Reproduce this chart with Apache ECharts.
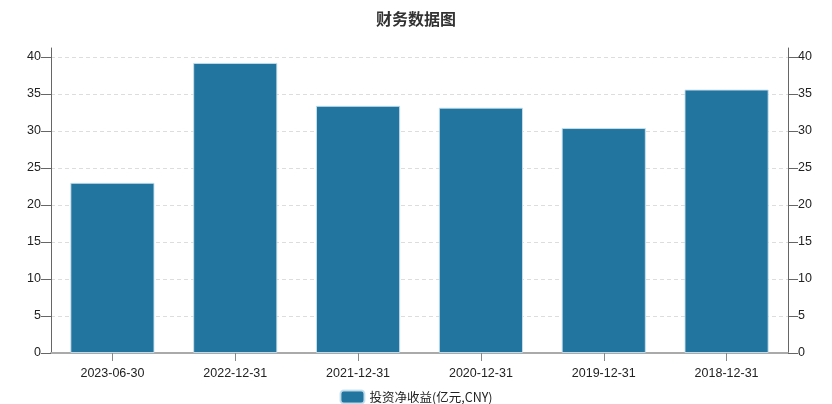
<!DOCTYPE html>
<html>
<head>
<meta charset="utf-8">
<script src="https://cdn.jsdelivr.net/npm/echarts@6/dist/echarts.min.js"></script>
<style>
html,body{margin:0;padding:0;background:#fff;}
#main{width:832px;height:404px;}
</style>
</head>
<body>
<div id="main"></div>
<script>
const categories = ['2023-06-30', '2022-12-31', '2021-12-31', '2020-12-31', '2019-12-31', '2018-12-31'];
const investIncome = [23.0, 39.2, 33.4, 33.15, 30.4, 35.6];
const yTicks = [0, 5, 10, 15, 20, 25, 30, 35, 40];
const seriesName = '投资净收益(亿元,CNY)';
const chartTitle = '财务数据图';

const fontFamily = '"Liberation Sans", Arial, "Noto Sans CJK SC", sans-serif';
const yMax = yTicks[yTicks.length - 1];
const yStep = yTicks[1] - yTicks[0];

function yAxisDef(pos) {
  return {
    type: 'value',
    gridIndex: 0,
    position: pos,
    min: yTicks[0],
    max: yMax,
    interval: yStep,
    axisLine: { show: false },
    axisTick: { show: true, length: 10, lineStyle: { color: '#666' } },
    axisLabel: {
      margin: 10,
      color: '#222',
      fontSize: 12.5,
      fontFamily: fontFamily
    },
    splitLine: pos === 'left' ? {
      show: true,
      lineStyle: { color: '#ddd', type: [4, 3], width: 1 }
    } : { show: false }
  };
}

// axis-line-only axes on a slightly taller grid (lines extend above the top tick)
function yLineAxis(pos) {
  return {
    type: 'value',
    gridIndex: 1,
    position: pos,
    min: 0,
    max: 1,
    axisLine: { show: true, onZero: false, lineStyle: { color: '#666', width: 1 } },
    axisTick: { show: false },
    axisLabel: { show: false },
    splitLine: { show: false }
  };
}

const chart = echarts.init(document.getElementById('main'), null, { renderer: 'canvas' });
chart.setOption({
  backgroundColor: '#fff',
  animation: false,
  title: {
    text: chartTitle,
    left: 'center',
    top: 6,
    textStyle: { fontSize: 16, fontWeight: 'bold', color: '#333', fontFamily: '"Noto Sans CJK SC", sans-serif' }
  },
  legend: {
    bottom: -5.5,
    left: 'center',
    itemWidth: 24,
    itemHeight: 13,
    icon: 'roundRect',
    textStyle: { fontSize: 12.5, color: '#222', fontFamily: '"Noto Sans CJK SC", sans-serif' },
    data: [seriesName]
  },
  grid: [
    { left: 51, right: 44, top: 57, bottom: 51, containLabel: false },
    { left: 51, right: 44, top: 48, bottom: 51, containLabel: false }
  ],
  xAxis: [{
    type: 'category',
    gridIndex: 0,
    data: categories,
    axisLine: { show: true, lineStyle: { color: '#aaa', width: 2 } },
    axisTick: { show: true, alignWithLabel: true, length: 8, lineStyle: { color: '#888' } },
    axisLabel: { color: '#222', fontSize: 12.5, margin: 14, fontFamily: fontFamily },
    splitLine: { show: false }
  }, {
    type: 'category',
    gridIndex: 1,
    data: categories,
    show: false
  }],
  yAxis: [yAxisDef('left'), yAxisDef('right'), yLineAxis('left'), yLineAxis('right')],
  series: [{
    name: seriesName,
    type: 'bar',
    xAxisIndex: 0,
    yAxisIndex: 0,
    data: investIncome,
    barWidth: '68.5%',
    z: 3,
    itemStyle: { color: '#22759f', borderColor: 'rgba(200,225,238,0.9)', borderWidth: 1 }
  }]
});
</script>
</body>
</html>
